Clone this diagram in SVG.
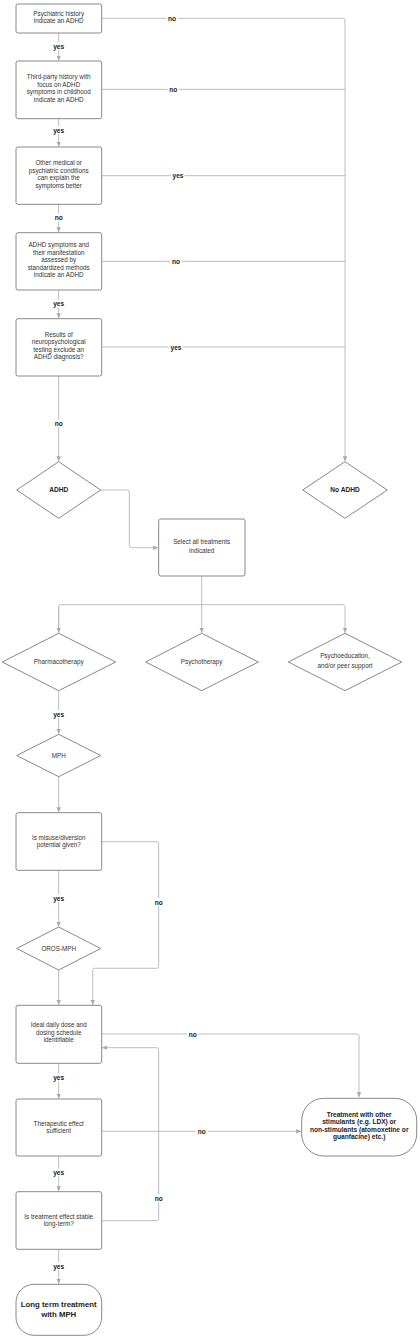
<svg xmlns="http://www.w3.org/2000/svg" width="420" height="1339" viewBox="0 0 420 1339">
<style>
.box{fill:#fff;stroke:#7a7a7a;stroke-width:0.9}
.ln{fill:none;stroke:#b5b5b5;stroke-width:0.9}
.t{font-family:"Liberation Sans",Arial,sans-serif;font-size:6.3px;fill:#333;text-anchor:middle}
.tb{font-family:"Liberation Sans",Arial,sans-serif;font-size:6.6px;font-weight:bold;fill:#222;text-anchor:middle}
.lb{font-family:"Liberation Sans",Arial,sans-serif;font-size:6.6px;font-weight:bold;fill:#222;text-anchor:middle;dominant-baseline:central}
.bg{fill:#fff}
</style>
<defs>
<marker id="ar" markerWidth="6" markerHeight="6" refX="5" refY="3" orient="auto" markerUnits="userSpaceOnUse">
<path d="M0,0.8 L5,3 L0,5.2 Z" fill="#a8a8a8"/>
</marker>
</defs>
<rect width="420" height="1339" fill="#fff"/>
<g id="connectors">
<path class="ln" d="M58.7,33 V60.5" marker-end="url(#ar)"/>
<path class="ln" d="M58.7,118.7 V146.5" marker-end="url(#ar)"/>
<path class="ln" d="M58.7,204.3 V232.2" marker-end="url(#ar)"/>
<path class="ln" d="M58.7,290 V318.2" marker-end="url(#ar)"/>
<path class="ln" d="M58.7,376 V461.2" marker-end="url(#ar)"/>
<path class="ln" d="M101.7,18.3 H343 Q345,18.3 345,20.3 V461.2" marker-end="url(#ar)"/>
<path class="ln" d="M101.7,89.3 H345"/>
<path class="ln" d="M101.7,175.7 H345"/>
<path class="ln" d="M101.7,261.3 H345"/>
<path class="ln" d="M101.7,347 H345"/>
<path class="ln" d="M100.7,490 H127.3 Q129.3,490 129.3,492 V545.7 Q129.3,547.7 131.3,547.7 H158.2" marker-end="url(#ar)"/>
<path class="ln" d="M201.7,576 V604.7"/>
<path class="ln" d="M58.7,632.8 V606.7 Q58.7,604.7 60.7,604.7 H343 Q345,604.7 345,606.7 V632.8" marker-end="url(#ar)"/>
<path class="ln" d="M58.7,606 V632.8" marker-end="url(#ar)"/>
<path class="ln" d="M201.7,604.7 V632.8" marker-end="url(#ar)"/>
<path class="ln" d="M58.7,690.7 V733.8" marker-end="url(#ar)"/>
<path class="ln" d="M58.7,776.7 V812.2" marker-end="url(#ar)"/>
<path class="ln" d="M58.7,870.3 V926.5" marker-end="url(#ar)"/>
<path class="ln" d="M101.7,841.7 H156.7 Q158.7,841.7 158.7,843.7 V966.3 Q158.7,968.3 156.7,968.3 H94.7 Q92.7,968.3 92.7,970.3 V1004.8" marker-end="url(#ar)"/>
<path class="ln" d="M58.7,970 V1004.8" marker-end="url(#ar)"/>
<path class="ln" d="M101.7,1034 H357 Q359,1034 359,1036 V1097.2" marker-end="url(#ar)"/>
<path class="ln" d="M58.7,1063.3 V1098.5" marker-end="url(#ar)"/>
<path class="ln" d="M101.7,1131.3 H301.2" marker-end="url(#ar)"/>
<path class="ln" d="M58.7,1156 V1191.2" marker-end="url(#ar)"/>
<path class="ln" d="M101.7,1220.7 H156.7 Q158.7,1220.7 158.7,1218.7 V1049.7 Q158.7,1047.7 156.7,1047.7 H102.2" marker-end="url(#ar)"/>
<path class="ln" d="M58.7,1249.3 V1283.8" marker-end="url(#ar)"/>
<g id="labels">
<rect class="bg" x="52" y="42" width="13.4" height="8"/><text class="lb" x="58.7" y="46">yes</text>
<rect class="bg" x="52" y="126" width="13.4" height="8"/><text class="lb" x="58.7" y="130">yes</text>
<rect class="bg" x="53" y="213.7" width="11.4" height="8"/><text class="lb" x="58.7" y="217.7">no</text>
<rect class="bg" x="52" y="299.7" width="13.4" height="8"/><text class="lb" x="58.7" y="303.7">yes</text>
<rect class="bg" x="53" y="419.3" width="11.4" height="8"/><text class="lb" x="58.7" y="423.3">no</text>
<rect class="bg" x="166.5" y="14.3" width="11.4" height="8"/><text class="lb" x="172" y="18.3">no</text>
<rect class="bg" x="167.5" y="85.3" width="11.4" height="8"/><text class="lb" x="173.2" y="89.3">no</text>
<rect class="bg" x="171.3" y="171.7" width="13.4" height="8"/><text class="lb" x="178" y="175.7">yes</text>
<rect class="bg" x="170.3" y="257.3" width="11.4" height="8"/><text class="lb" x="176" y="261.3">no</text>
<rect class="bg" x="169.3" y="343" width="13.4" height="8"/><text class="lb" x="176" y="347">yes</text>
<rect class="bg" x="52" y="710" width="13.4" height="8"/><text class="lb" x="58.7" y="714">yes</text>
<rect class="bg" x="52" y="894" width="13.4" height="8"/><text class="lb" x="58.7" y="898">yes</text>
<rect class="bg" x="153" y="898" width="11.4" height="8"/><text class="lb" x="158.7" y="902">no</text>
<rect class="bg" x="187" y="1030" width="11.4" height="8"/><text class="lb" x="192.7" y="1034">no</text>
<rect class="bg" x="52" y="1073.3" width="13.4" height="8"/><text class="lb" x="58.7" y="1077.3">yes</text>
<rect class="bg" x="196" y="1127.3" width="11.4" height="8"/><text class="lb" x="201.7" y="1131.3">no</text>
<rect class="bg" x="52" y="1168.7" width="13.4" height="8"/><text class="lb" x="58.7" y="1172.7">yes</text>
<rect class="bg" x="153" y="1194" width="11.4" height="8"/><text class="lb" x="158.7" y="1198">no</text>
<rect class="bg" x="52" y="1262" width="13.4" height="8"/><text class="lb" x="58.7" y="1266">yes</text>
</g>
</g>
<g id="n1"><rect class="box" x="16" y="4" width="85.7" height="29" rx="2"/>
<text class="t" x="58.7" y="15.6">Psychiatric history</text><text class="t" x="58.7" y="23.2">indicate an ADHD</text></g>
<g id="n2"><rect class="box" x="16" y="61" width="85.7" height="57.7" rx="2"/>
<text class="t" x="58.7" y="79">Third-party history with</text><text class="t" x="58.7" y="86.5">focus on ADHD</text><text class="t" x="58.7" y="94">symptoms in childhood</text><text class="t" x="58.7" y="101.5">indicate an ADHD</text></g>
<g id="n3"><rect class="box" x="16" y="147" width="85.7" height="57.3" rx="2"/>
<text class="t" x="58.7" y="165">Other medical or</text><text class="t" x="58.7" y="172.5">psychiatric conditions</text><text class="t" x="58.7" y="180">can explain the</text><text class="t" x="58.7" y="187.5">symptoms better</text></g>
<g id="n4"><rect class="box" x="16" y="232.7" width="85.7" height="57.3" rx="2"/>
<text class="t" x="58.7" y="247">ADHD symptoms and</text><text class="t" x="58.7" y="254.6">their manifestation</text><text class="t" x="58.7" y="262.2">assessed by</text><text class="t" x="58.7" y="269.8">standardized methods</text><text class="t" x="58.7" y="277.4">indicate an ADHD</text></g>
<g id="n5"><rect class="box" x="16" y="318.7" width="85.7" height="57.3" rx="2"/>
<text class="t" x="58.7" y="336.7">Results of</text><text class="t" x="58.7" y="344.2">neuropsychological</text><text class="t" x="58.7" y="351.7">testing exclude an</text><text class="t" x="58.7" y="359.2">ADHD diagnosis?</text></g>
<g id="n6"><path class="box" d="M58.7,461.7 L100.7,490 L58.7,518.3 L16.7,490 Z"/>
<text class="tb" x="58.7" y="492.2">ADHD</text></g>
<g id="n7"><path class="box" d="M345,461.7 L387.3,490 L345,518.3 L302.7,490 Z"/>
<text class="tb" x="345" y="492.2">No ADHD</text></g>
<g id="n8"><rect class="box" x="158.7" y="519" width="86.3" height="57" rx="2"/>
<text class="t" x="201.7" y="544.3">Select all treatments</text><text class="t" x="201.7" y="552.7">indicated</text></g>
<g id="n9"><path class="box" d="M58.7,633.3 L115.7,662 L58.7,690.7 L2.3,662 Z"/>
<text class="t" x="58.7" y="664">Pharmacotherapy</text></g>
<g id="n10"><path class="box" d="M201.7,633.3 L258.3,662 L201.7,690.7 L145.7,662 Z"/>
<text class="t" x="201.7" y="664">Psychotherapy</text></g>
<g id="n11"><path class="box" d="M345,633.3 L401.7,662 L345,690.7 L288.3,662 Z"/>
<text class="t" x="345" y="657.8">Psychoeducation,</text><text class="t" x="345" y="667.5">and/or peer support</text></g>
<g id="n12"><path class="box" d="M58.7,734.3 L100.7,755.5 L58.7,776.7 L16.7,755.5 Z"/>
<text class="t" x="58.7" y="757.5">MPH</text></g>
<g id="n13"><rect class="box" x="16" y="812.7" width="85.7" height="57.6" rx="2"/>
<text class="t" x="58.7" y="839.7">Is misuse/diversion</text><text class="t" x="58.7" y="847.3">potential given?</text></g>
<g id="n14"><path class="box" d="M58.7,927 L100.7,948.5 L58.7,970 L16.7,948.5 Z"/>
<text class="t" x="58.7" y="950.5">OROS-MPH</text></g>
<g id="n15"><rect class="box" x="16" y="1005.3" width="85.7" height="58" rx="2"/>
<text class="t" x="58.7" y="1027">Ideal daily dose and</text><text class="t" x="58.7" y="1034.7">dosing schedule</text><text class="t" x="58.7" y="1042.3">identifiable</text></g>
<g id="n16"><rect class="box" x="16" y="1099" width="85.7" height="57" rx="2"/>
<text class="t" x="58.7" y="1125.7">Therapeutic effect</text><text class="t" x="58.7" y="1133.3">sufficient</text></g>
<g id="n17"><rect class="box" x="16" y="1191.7" width="85.7" height="57.6" rx="2"/>
<text class="t" x="58.7" y="1218.7">Is treatment effect stable</text><text class="t" x="58.7" y="1226.3">long-term?</text></g>
<g id="n18"><rect class="box" x="301.7" y="1098.3" width="115" height="57.7" rx="22"/>
<text class="tb" x="359.2" y="1117">Treatment with other</text><text class="tb" x="359.2" y="1124.4">stimulants (e.g. LDX) or</text><text class="tb" x="359.2" y="1131.8">non-stimulants (atomoxetine or</text><text class="tb" x="359.2" y="1139.2">guanfacine) etc.)</text></g>
<g id="n19"><rect class="box" x="16" y="1284.3" width="85.7" height="51" rx="18"/>
<text class="tb" x="58.7" y="1307.2" style="font-size:7.8px">Long term treatment</text><text class="tb" x="58.7" y="1317" style="font-size:7.8px">with MPH</text></g>
</svg>
